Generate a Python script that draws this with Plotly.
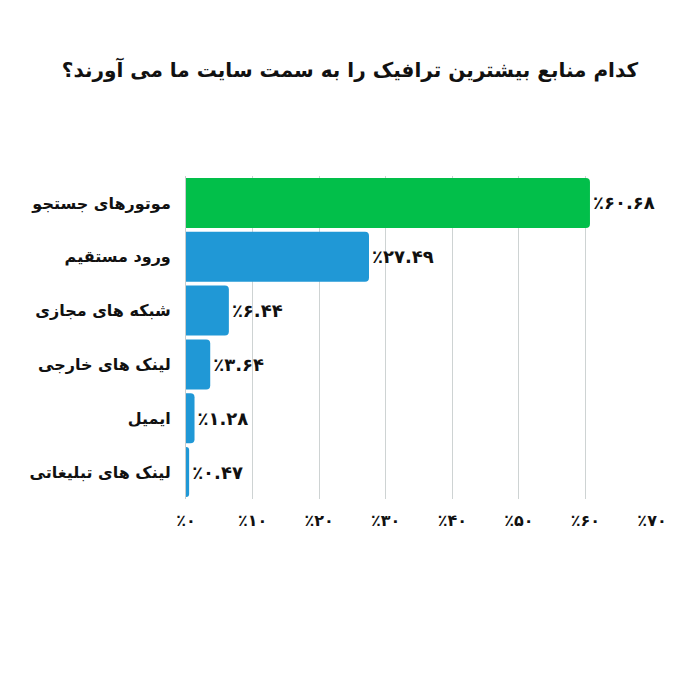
import plotly.graph_objects as go

categories = ["موتورهای جستجو", "ورود مستقیم", "شبکه های مجازی", "لینک های خارجی", "ایمیل", "لینک های تبلیغاتی"]
values = [60.68, 27.49, 6.44, 3.64, 1.28, 0.47]
bar_colors = ["#02BF4A", "#2098D6", "#2098D6", "#2098D6", "#2098D6", "#2098D6"]
tick_values = [0, 10, 20, 30, 40, 50, 60, 70]
title_text = "کدام منابع بیشترین ترافیک را به سمت سایت ما می آورند؟"

FA = str.maketrans("0123456789", "۰۱۲۳۴۵۶۷۸۹")


def fa_pct(v, fmt):
    return "٪" + (fmt.format(v)).translate(FA)


value_labels = ["<b>" + fa_pct(v, "{:.2f}") + "</b>" for v in values]
tick_labels = ["<b>" + fa_pct(v, "{:d}") + "</b>" for v in tick_values]
cat_labels = ["<b>" + c + "</b>" for c in categories]

font_family = "DejaVu Sans"

fig = go.Figure(
    go.Bar(
        x=values,
        y=cat_labels,
        orientation="h",
        marker=dict(color=bar_colors, line=dict(width=0)),
        text=value_labels,
        textposition="outside",
        textfont=dict(size=18, color="#111111", family=font_family),
        cliponaxis=False,
    )
)

fig.update_layout(
    width=700,
    height=700,
    paper_bgcolor="white",
    plot_bgcolor="white",
    margin=dict(l=186, r=48, t=176, b=201),
    bargap=0.07,
    barcornerradius=4,
    showlegend=False,
    title=dict(
        text="<b>" + title_text + "</b>",
        x=0.5,
        xanchor="center",
        y=1 - 70 / 700,
        yanchor="middle",
        font=dict(size=20, color="#111111", family=font_family),
    ),
    font=dict(family=font_family),
)

fig.update_xaxes(
    range=[0, 70],
    tickvals=tick_values,
    ticktext=tick_labels,
    showgrid=True,
    gridcolor="#CED3D3",
    gridwidth=1,
    zeroline=False,
    showline=False,
    ticks="outside",
    ticklen=7,
    tickcolor="rgba(0,0,0,0)",
    tickfont=dict(size=16, color="#111111", family=font_family),
    fixedrange=True,
)

fig.update_yaxes(
    autorange="reversed",
    showgrid=False,
    showline=True,
    linecolor="#C8CDCD",
    linewidth=1,
    ticks="outside",
    ticklen=11,
    tickcolor="rgba(0,0,0,0)",
    tickfont=dict(size=16, color="#111111", family=font_family),
    fixedrange=True,
)

fig.write_html("out.html")
